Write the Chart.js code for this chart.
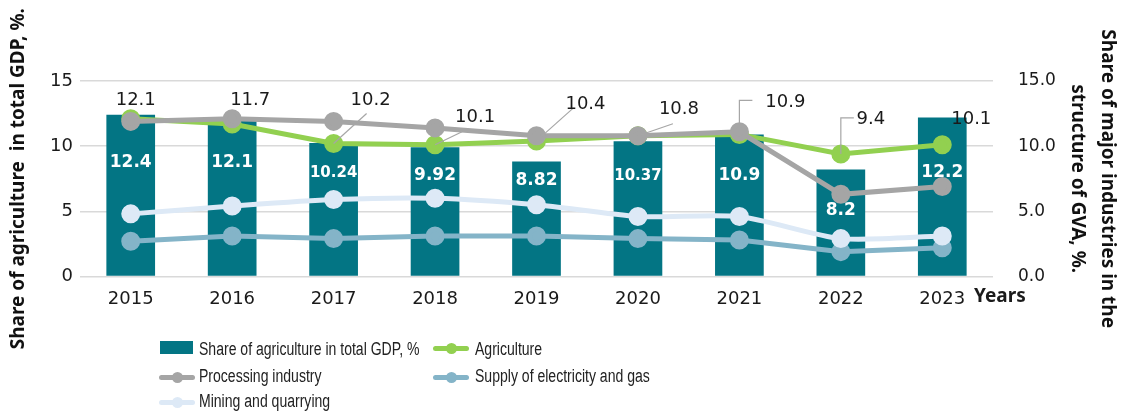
<!DOCTYPE html>
<html>
<head>
<meta charset="utf-8">
<script src="https://cdn.jsdelivr.net/npm/chart.js@4"></script>
<style>
  html, body { margin: 0; padding: 0; background: #fff; }
  #wrap { position: relative; width: 1122px; height: 414px; overflow: hidden; }
  #chart { position: absolute; left: 0; top: 0; }
  .lg { position: absolute; font: 18px "Liberation Sans", sans-serif; color: #222; white-space: nowrap; line-height: 20px; transform: scaleX(0.78); transform-origin: 0 50%; }
  .sw { position: absolute; }
  .bar { background: #037584; width: 33px; height: 13px; }
  .ln { width: 36px; height: 5px; border-radius: 3px; }
  .ln::after { content: ""; position: absolute; left: 13px; top: -3px; width: 11px; height: 11px; border-radius: 50%; background: inherit; }
</style>
</head>
<body>
<div id="wrap">
  <canvas id="chart" width="1122" height="414"></canvas>
  <div class="sw bar" style="left:160px; top:341px"></div>
  <div class="lg" style="left:199px; top:339px">Share of agriculture in total GDP, %</div>
  <div class="sw ln" style="left:433px; top:346px; background:#92d050"></div>
  <div class="lg" style="left:475px; top:339px">Agriculture</div>
  <div class="sw ln" style="left:159px; top:375px; background:#a5a5a5"></div>
  <div class="lg" style="left:199px; top:366px">Processing industry</div>
  <div class="sw ln" style="left:433px; top:375px; background:#84b4c8"></div>
  <div class="lg" style="left:475px; top:366px">Supply of electricity and gas</div>
  <div class="sw ln" style="left:159px; top:400px; background:#dde9f6"></div>
  <div class="lg" style="left:199px; top:391px">Mining and quarrying</div>
</div>
<script>
const years = ['2015', '2016', '2017', '2018', '2019', '2020', '2021', '2022', '2023'];
const gdpShare    = [12.4, 12.1, 10.24, 9.92, 8.82, 10.37, 10.9, 8.2, 12.2];
const agriculture = [12.1, 11.7, 10.2, 10.1, 10.4, 10.8, 10.9, 9.4, 10.1];
const processing  = [11.9, 12.1, 11.9, 11.4, 10.8, 10.8, 11.1, 6.3, 6.9];
const mining      = [4.8, 5.4, 5.9, 6.0, 5.5, 4.6, 4.6, 2.9, 3.1];
const electricity = [2.7, 3.1, 2.9, 3.1, 3.1, 2.9, 2.8, 1.9, 2.2];
const leftTicks  = [0, 5, 10, 15];
const rightTicks = [0, 5, 10, 15];

// label placement (pixels, relative to the point / bar top)
const agriLabelPos = [[5, -18], [18, -24], [37, -43], [40, -28], [49, -37], [41, -26], [46, -32], [30, -35], [29, -26]];
const agriLeaders = [null, null, ['d', 33, -30], ['d', 27, -13], ['d', 37, -33], ['d', 35, -12], ['e', 13, -34], ['e', 13, -36], null];
const barLabelDrop = [48, 44, 30, 28, 19, 35, 41, 41, 55];

const FONT = '"DejaVu Sans", sans-serif';
const TITLE_FONT = '"Noto Sans", sans-serif';

const labelPlugin = {
  id: 'labels',
  afterDatasetsDraw(chart) {
    const ctx = chart.ctx;
    ctx.save();
    // bar labels
    const bars = chart.getDatasetMeta(0).data;
    ctx.fillStyle = '#fff';
    ctx.textAlign = 'center';
    ctx.textBaseline = 'middle';
    bars.forEach((b, i) => {
      const txt = String(gdpShare[i]);
      ctx.font = 'bold ' + (txt.length > 4 ? 15 : 17) + 'px ' + FONT;
      ctx.fillText(txt, b.x, b.y + barLabelDrop[i]);
    });
    // agriculture labels with leader lines
    const pts = chart.getDatasetMeta(1).data;
    ctx.strokeStyle = '#a6a6a6';
    ctx.lineWidth = 1.2;
    pts.forEach((p, i) => {
      const l = agriLeaders[i];
      if (l) {
        ctx.beginPath();
        ctx.moveTo(p.x, p.y);
        if (l[0] === 'd') {
          ctx.lineTo(p.x + l[1], p.y + l[2]);
        } else {
          ctx.lineTo(p.x, p.y + l[2]);
          ctx.lineTo(p.x + l[1], p.y + l[2]);
        }
        ctx.stroke();
      }
    });
    ctx.fillStyle = '#1a1a1a';
    ctx.font = '18px ' + FONT;
    pts.forEach((p, i) => {
      ctx.fillText(String(agriculture[i]), p.x + agriLabelPos[i][0], p.y + agriLabelPos[i][1]);
    });
    // "Years" at the end of the x axis
    const xs = chart.scales.x;
    ctx.font = 'bold 19px ' + TITLE_FONT;
    ctx.textAlign = 'left';
    ctx.fillText('Years', xs.right - 19, 297);
    ctx.restore();
  }
};

const lineDs = (label, data, color, order, tension) => ({
  type: 'line',
  label: label,
  data: data,
  yAxisID: 'y1',
  borderColor: color,
  backgroundColor: color,
  pointBackgroundColor: color,
  pointBorderColor: color,
  borderWidth: 5,
  pointRadius: 7,
  tension: tension,
  order: order
});

new Chart(document.getElementById('chart'), {
  type: 'bar',
  data: {
    labels: years,
    datasets: [
      {
        label: 'Share of agriculture in total GDP, %',
        data: gdpShare,
        backgroundColor: '#037584',
        categoryPercentage: 1,
        barPercentage: 0.48,
        yAxisID: 'y',
        order: 10
      },
      lineDs('Agriculture', agriculture, '#92d050', 3, 0),
      lineDs('Processing industry', processing, '#a5a5a5', 2, 0),
      lineDs('Mining and quarrying', mining, '#dde9f6', 4, 0.25),
      lineDs('Supply of electricity and gas', electricity, '#84b4c8', 5, 0)
    ]
  },
  options: {
    responsive: false,
    animation: false,
    layout: { padding: { top: 81, bottom: 100, left: 0, right: 0 } },
    plugins: {
      legend: { display: false },
      tooltip: { enabled: false }
    },
    scales: {
      x: {
        grid: { display: false },
        border: { display: false },
        ticks: { color: '#1a1a1a', font: { family: FONT, size: 18 }, padding: 4 }
      },
      y: {
        position: 'left',
        min: 0,
        max: 15,
        afterBuildTicks: s => { s.ticks = leftTicks.map(v => ({ value: v })); },
        afterFit: s => { s.width = 80; },
        grid: { color: '#d9d9d9', lineWidth: 1.5, drawTicks: false },
        border: { display: false },
        ticks: { color: '#1a1a1a', font: { family: FONT, size: 18 }, padding: 7 },
        title: {
          display: true,
          text: 'Share of agriculture  in total GDP, %.',
          color: '#111',
          font: { family: TITLE_FONT, size: 19, weight: 'bold', lineHeight: 1.2 },
          padding: { top: 7, bottom: 0 }
        }
      },
      y1: {
        position: 'right',
        min: 0,
        max: 15,
        afterBuildTicks: s => { s.ticks = rightTicks.map(v => ({ value: v })); },
        afterFit: s => { s.width = 129; },
        grid: { display: false, drawTicks: false },
        border: { display: false },
        ticks: {
          color: '#1a1a1a',
          font: { family: FONT, size: 17 },
          padding: 25,
          callback: v => Number(v).toFixed(1)
        },
        title: {
          display: true,
          text: ['Share of major industries in the', 'structure of GVA, %.'],
          color: '#111',
          font: { family: TITLE_FONT, size: 19, weight: 'bold', lineHeight: 1.55 },
          padding: { top: 0, bottom: 0 }
        }
      }
    }
  },
  plugins: [labelPlugin]
});
</script>
</body>
</html>
